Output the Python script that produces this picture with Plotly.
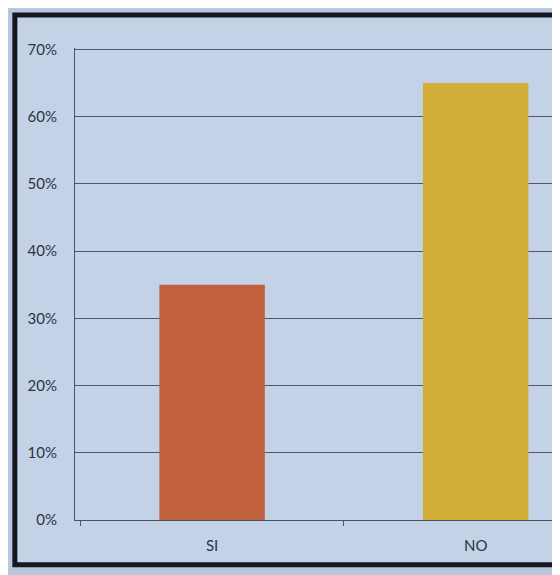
import plotly.graph_objects as go

categories = ["SI", "NO"]
values = [0.35, 0.65]
bar_colors = ["#c0603f", "#d2ad38"]
y_ticks = [0, 0.1, 0.2, 0.3, 0.4, 0.5, 0.6, 0.7]

fig = go.Figure()
fig.add_trace(go.Bar(x=categories, y=values, marker=dict(color=bar_colors, line=dict(width=0)),
                     width=0.4, showlegend=False))

fig.update_layout(
    width=560, height=575,
    margin=dict(l=67, r=0, t=40, b=63),
    paper_bgcolor="#b8c7dd",
    plot_bgcolor="rgba(0,0,0,0)",
    font=dict(family="Lato, Open Sans, sans-serif", size=15, color="#2e3340"),
    xaxis=dict(range=[-0.52, 1.35], showgrid=False, showline=True, linecolor="#4a5266",
               linewidth=1, ticks="outside", tickson="boundaries", ticklen=5,
               tickcolor="#4a5266", ticklabelstandoff=12),
    yaxis=dict(range=[0, 0.702], tickvals=y_ticks, tickformat=".0%", showgrid=True,
               gridcolor="#4f576a", gridwidth=1, showline=True, linecolor="#4a5266",
               linewidth=1, zeroline=False, ticklabelstandoff=14),
    shapes=[
        dict(type="rect", xref="paper", yref="paper", x0=-0.122, x1=1.05, y0=-0.095, y1=1.07,
             line=dict(color="#15161f", width=5), fillcolor="#c4d2e7", layer="below"),
    ],
)

fig.write_html("out.html")
